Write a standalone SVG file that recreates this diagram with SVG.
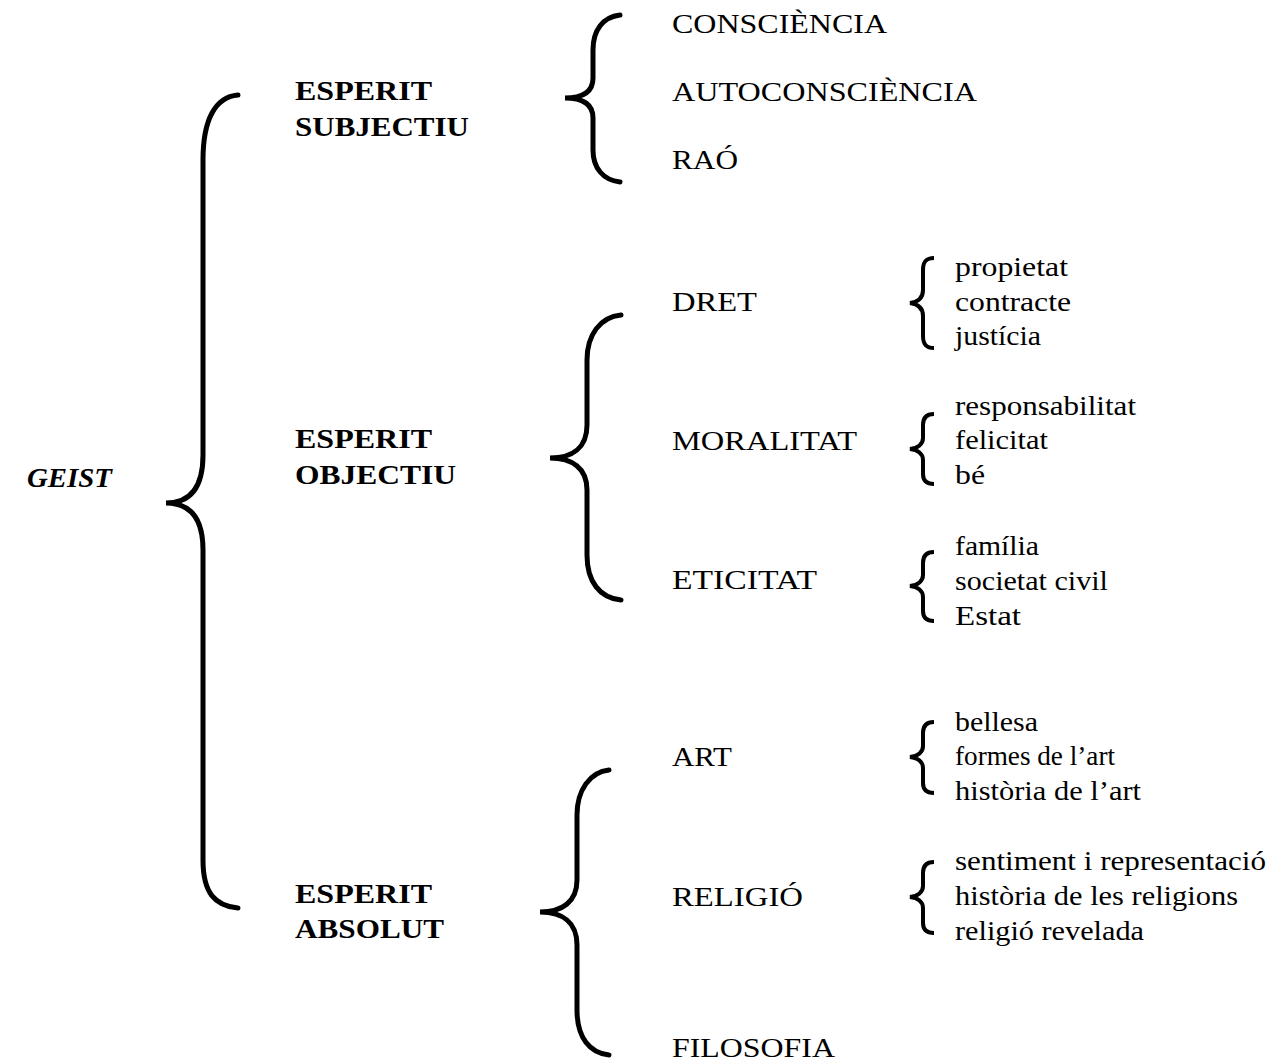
<svg xmlns="http://www.w3.org/2000/svg" width="1273" height="1062" viewBox="0 0 1273 1062">
<style>
.t{font-family:"Liberation Serif","Times New Roman",serif;font-size:28px;fill:#000}
.b{font-weight:bold}
.bi{font-weight:bold;font-style:italic}
.br{fill:none;stroke:#000;stroke-width:5;stroke-linecap:round}
.sb{fill:none;stroke:#000;stroke-width:4;stroke-linecap:butt}
</style>
<rect width="1273" height="1062" fill="#fff"/>
<g id="connectors">
<path class="br" d="M238,95 C215,97 203,120 203,160 L203,455 C203,488 190,503 166,503 C190,503 203,518 203,550 L203,860 C203,893 215,906 238,908"/>
<path class="br" d="M620,15 C603,17 593,30 593,50 L593,78 C593,92 583,98 565,98 C583,98 593,104 593,118 L593,150 C593,168 603,180 620,182"/>
<path class="br" d="M621,315 C600,317 587,335 587,360 L587,425 C587,448 572,458 550,458 C572,458 587,468 587,490 L587,555 C587,582 600,598 621,600"/>
<path class="br" d="M609,770 C590,772 577,790 577,815 L577,880 C577,902 562,912 540,912 C562,912 577,922 577,945 L577,1010 C577,1038 590,1053 609,1055"/>
<path class="sb" d="M934,258 C926,258 923,262 923,270 L923,290 C923,298 918,302 910,303 C918,304 923,308 923,316 L923,336 C923,344 926,348 934,348"/>
<path class="sb" d="M934,414 C926,414 923,418 923,425 L923,438 C923,444 918,448 910,449 C918,450 923,454 923,460 L923,474 C923,480 926,484 934,484"/>
<path class="sb" d="M934,552 C926,552 923,556 923,563 L923,575 C923,581 918,585 910,586 C918,587 923,591 923,597 L923,611 C923,617 926,621 934,621"/>
<path class="sb" d="M934,722 C926,722 923,726 923,733 L923,746 C923,752 918,756 910,757 C918,758 923,762 923,768 L923,783 C923,789 926,793 934,793"/>
<path class="sb" d="M934,862 C926,862 923,866 923,873 L923,886 C923,892 918,896 910,897 C918,898 923,902 923,908 L923,923 C923,929 926,933 934,933"/>
</g>
<g id="geist"><text class="t bi" x="27" y="487" textLength="85" lengthAdjust="spacingAndGlyphs">GEIST</text></g>
<g id="subjectiu">
<text class="t b" x="295" y="100" textLength="137" lengthAdjust="spacingAndGlyphs">ESPERIT</text>
<text class="t b" x="295" y="136" textLength="174" lengthAdjust="spacingAndGlyphs">SUBJECTIU</text>
</g>
<g id="objectiu">
<text class="t b" x="295" y="448" textLength="137" lengthAdjust="spacingAndGlyphs">ESPERIT</text>
<text class="t b" x="295" y="484" textLength="161" lengthAdjust="spacingAndGlyphs">OBJECTIU</text>
</g>
<g id="absolut">
<text class="t b" x="295" y="903" textLength="137" lengthAdjust="spacingAndGlyphs">ESPERIT</text>
<text class="t b" x="295" y="938" textLength="149" lengthAdjust="spacingAndGlyphs">ABSOLUT</text>
</g>
<g id="consciencia"><text class="t" x="672" y="33" textLength="215" lengthAdjust="spacingAndGlyphs">CONSCIÈNCIA</text></g>
<g id="autoconsciencia"><text class="t" x="672" y="101" textLength="305" lengthAdjust="spacingAndGlyphs">AUTOCONSCIÈNCIA</text></g>
<g id="rao"><text class="t" x="672" y="169" textLength="66" lengthAdjust="spacingAndGlyphs">RAÓ</text></g>
<g id="dret"><text class="t" x="672" y="311" textLength="85" lengthAdjust="spacingAndGlyphs">DRET</text></g>
<g id="moralitat"><text class="t" x="672" y="450" textLength="185" lengthAdjust="spacingAndGlyphs">MORALITAT</text></g>
<g id="eticitat"><text class="t" x="672" y="589" textLength="145" lengthAdjust="spacingAndGlyphs">ETICITAT</text></g>
<g id="art"><text class="t" x="672" y="766" textLength="60" lengthAdjust="spacingAndGlyphs">ART</text></g>
<g id="religio"><text class="t" x="672" y="906" textLength="131" lengthAdjust="spacingAndGlyphs">RELIGIÓ</text></g>
<g id="filosofia"><text class="t" x="672" y="1057" textLength="163" lengthAdjust="spacingAndGlyphs">FILOSOFIA</text></g>
<g id="dret-items">
<text class="t" x="955" y="276" textLength="113" lengthAdjust="spacingAndGlyphs">propietat</text>
<text class="t" x="955" y="311" textLength="116" lengthAdjust="spacingAndGlyphs">contracte</text>
<text class="t" x="955" y="345" textLength="86" lengthAdjust="spacingAndGlyphs">justícia</text>
</g>
<g id="moralitat-items">
<text class="t" x="955" y="415" textLength="181" lengthAdjust="spacingAndGlyphs">responsabilitat</text>
<text class="t" x="955" y="449" textLength="93" lengthAdjust="spacingAndGlyphs">felicitat</text>
<text class="t" x="955" y="484" textLength="30" lengthAdjust="spacingAndGlyphs">bé</text>
</g>
<g id="eticitat-items">
<text class="t" x="955" y="555" textLength="84" lengthAdjust="spacingAndGlyphs">família</text>
<text class="t" x="955" y="590" textLength="153" lengthAdjust="spacingAndGlyphs">societat civil</text>
<text class="t" x="955" y="625" textLength="66" lengthAdjust="spacingAndGlyphs">Estat</text>
</g>
<g id="art-items">
<text class="t" x="955" y="731" textLength="83" lengthAdjust="spacingAndGlyphs">bellesa</text>
<text class="t" x="955" y="765" textLength="160" lengthAdjust="spacingAndGlyphs">formes de l’art</text>
<text class="t" x="955" y="800" textLength="186" lengthAdjust="spacingAndGlyphs">història de l’art</text>
</g>
<g id="religio-items">
<text class="t" x="955" y="870" textLength="311" lengthAdjust="spacingAndGlyphs">sentiment i representació</text>
<text class="t" x="955" y="905" textLength="283" lengthAdjust="spacingAndGlyphs">història de les religions</text>
<text class="t" x="955" y="940" textLength="189" lengthAdjust="spacingAndGlyphs">religió revelada</text>
</g>
</svg>
